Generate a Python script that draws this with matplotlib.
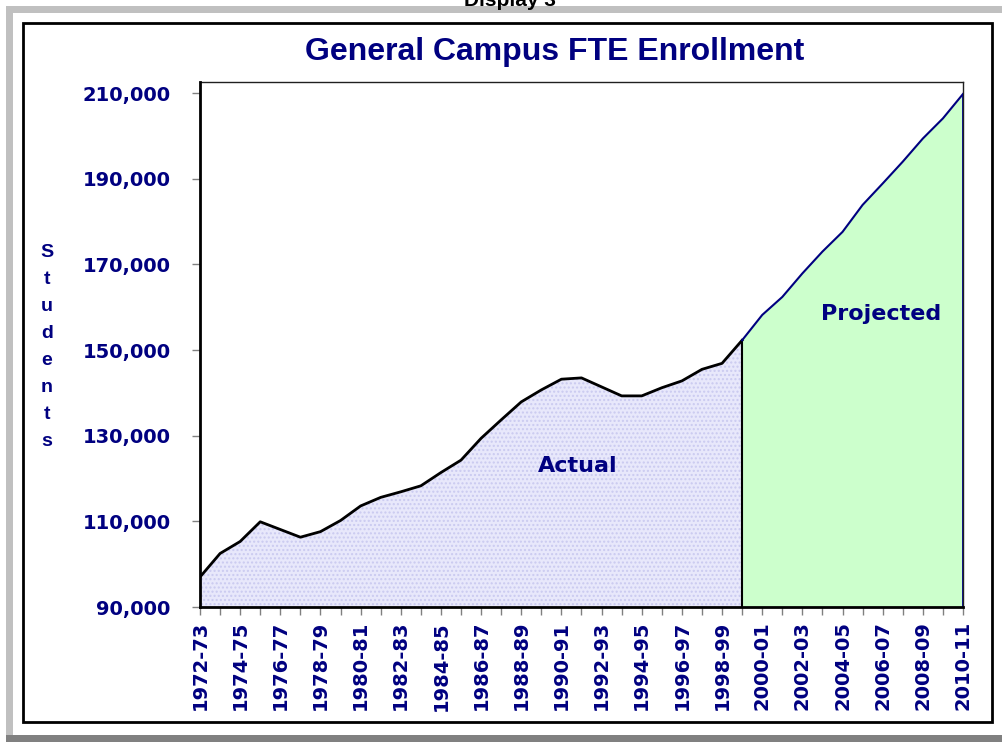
import matplotlib
matplotlib.use('Agg')
import matplotlib.pyplot as plt
from matplotlib.patches import Rectangle
from matplotlib.ticker import FuncFormatter

# School years 1972-73 .. 2010-11
years = ['%d-%02d' % (y, (y + 1) % 100) for y in range(1972, 2011)]

# FTE enrollment (actual through 1999-00)
actual = [97000, 102500, 105300, 109900, 108100, 106300, 107600, 110200,
          113600, 115600, 116900, 118300, 121400, 124300, 129400, 133700,
          137900, 140700, 143200, 143500, 141400, 139300, 139300, 141200,
          142800, 145500, 146900, 152300]
# projection from 1999-00 onward
projected = [152300, 158200, 162400, 167900, 173000, 177600, 183900, 188900,
             194000, 199400, 204100, 209800]

yticks = [90000, 110000, 130000, 150000, 170000, 190000, 210000]

navy = '#000080'
fs = 14

fig = plt.figure(figsize=(10.03, 7.42), dpi=100)

# outer frame (grey band + black box)
W, H = 1003.0, 742.0
fig.patches.append(Rectangle((6 / W, 0), 1, 1 - 6 / H, transform=fig.transFigure,
                             facecolor='#c0c0c0', edgecolor='none', zorder=-3))
fig.patches.append(Rectangle((13 / W, 7 / H), 1, 1 - 20 / H, transform=fig.transFigure,
                             facecolor='white', edgecolor='none', zorder=-2))
fig.patches.append(Rectangle((6 / W, 0), 1, 7 / H, transform=fig.transFigure,
                             facecolor='#808080', edgecolor='none', zorder=-2))
fig.patches.append(Rectangle((23 / W, 1 - 722 / H), (992 - 23) / W, (722 - 23) / H,
                             transform=fig.transFigure, facecolor='white',
                             edgecolor='black', lw=2, zorder=-1))
# page heading, cut by the top edge as in the scan
fig.text(510 / W, 1 - 6 / H, 'Display 3', ha='center', va='baseline',
         fontsize=15, fontweight='bold', family='Liberation Sans')

ax = fig.add_axes([200 / W, 1 - 607 / H, (963 - 200) / W, (607 - 82) / H])

xa = list(range(len(actual)))
xp = list(range(len(actual) - 1, len(years)))

ax.fill_between(xa, actual, 90000, facecolor='#e8e8fb', edgecolor='#cacaf0',
                hatch='....', lw=0, zorder=1)
ax.plot(xa, actual, color='black', lw=2, zorder=3)
ax.vlines(xa[-1], 90000, actual[-1], color='black', lw=1.5, zorder=3)

ax.fill_between(xp, projected, 90000, facecolor='#ccffcc', lw=0, zorder=1)
ax.plot(xp, projected, color=navy, lw=1.5, zorder=3)
ax.vlines(xp[-1], 90000, projected[-1], color=navy, lw=2, zorder=3)

ax.set_xlim(0, len(years) - 1)
ax.set_ylim(90000, 212600)

ax.set_yticks(yticks)
ax.yaxis.set_major_formatter(FuncFormatter(lambda v, p: '{:,.0f}'.format(v)))
ax.set_xticks(range(len(years)))
ax.set_xticklabels([y if i % 2 == 0 else '' for i, y in enumerate(years)],
                   rotation=90)

for lab in ax.get_xticklabels() + ax.get_yticklabels():
    lab.set_color(navy)
    lab.set_fontweight('bold')
    lab.set_fontsize(fs)
    lab.set_family('DejaVu Sans')

ax.tick_params(axis='both', direction='out', length=6, width=1, color='#808080')
ax.tick_params(axis='y', pad=15)
ax.tick_params(axis='x', pad=4)

for s in ['left', 'bottom']:
    ax.spines[s].set_linewidth(2)
    ax.spines[s].set_zorder(4)
for s in ['top', 'right']:
    ax.spines[s].set_linewidth(1)
    ax.spines[s].set_color('#202020')

fig.text(555 / W, 1 - 52 / H, 'General Campus FTE Enrollment', color=navy,
         fontsize=23, fontweight='bold', family='Liberation Sans',
         ha='center', va='center')

fig.text(47 / W, 1 - 347 / H, 'S\nt\nu\nd\ne\nn\nt\ns', ha='center',
         va='center', color=navy, fontsize=14, fontweight='bold',
         family='Liberation Sans', linespacing=1.78)

ax.text(18.8, 123000, 'Actual', color=navy, fontsize=16, fontweight='bold',
        family='DejaVu Sans', ha='center', va='center', zorder=5)
ax.text(33.9, 158500, 'Projected', color=navy, fontsize=16, fontweight='bold',
        family='DejaVu Sans', ha='center', va='center', zorder=5)

fig.savefig('out.png', dpi=100)
